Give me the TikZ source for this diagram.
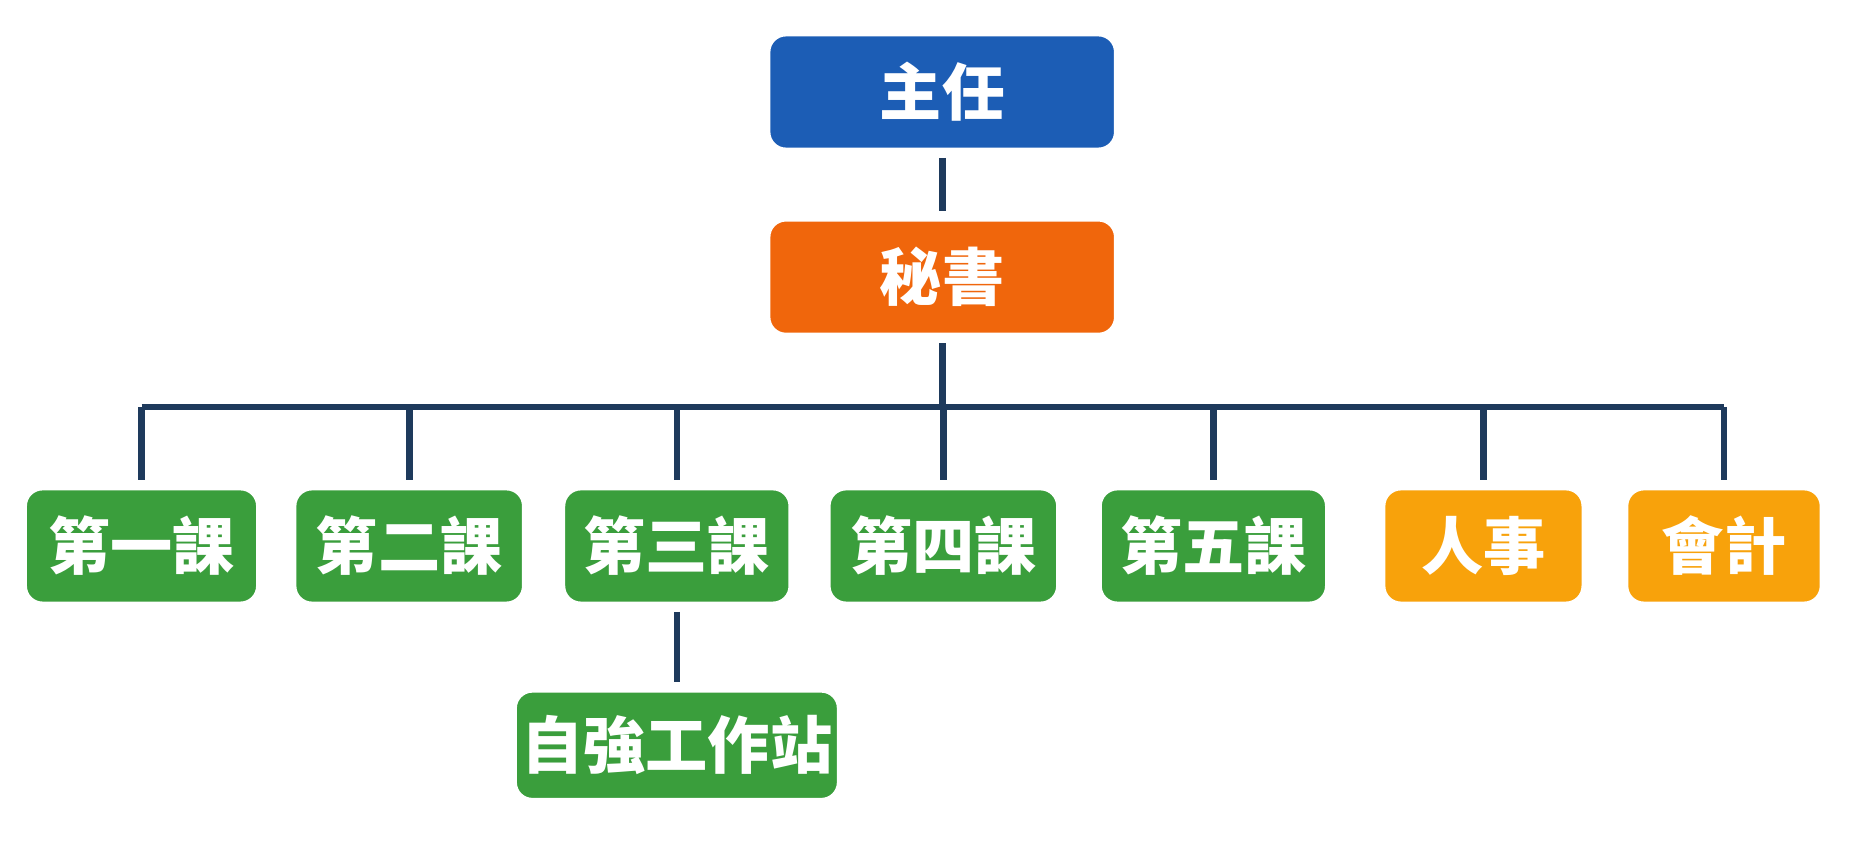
\documentclass[tikz,border=0pt]{standalone}
\usepackage{fontspec}
\newfontfamily\cjk{Noto Sans CJK TC}
\usetikzlibrary{shadows}
\definecolor{headblue}{HTML}{1C5DB5}
\definecolor{secorange}{HTML}{F0660C}
\definecolor{unitgreen}{HTML}{3A9E3C}
\definecolor{staffgold}{HTML}{F8A20B}
\definecolor{linenavy}{HTML}{1E3A5C}
\tikzset{
	box/.style={draw=white,line width=2.5pt,rounded corners=5pt,text=white,
		font=\cjk\bfseries\fontsize{15pt}{15pt}\selectfont,
		drop shadow={opacity=0.18,shadow xshift=0.5pt,shadow yshift=-0.5pt},
		inner sep=0pt},
	conn/.style={draw=linenavy,line width=1.6pt}
}
\begin{document}
\begin{tikzpicture}[x=0.01cm,y=-0.01cm]
	\useasboundingbox[fill=white] (0,0) rectangle (1568,723);

	\node[box,fill=headblue,minimum width=3.0cm,minimum height=1.03cm] (head) at (799,78) {主任};
	\node[box,fill=secorange,minimum width=3.0cm,minimum height=1.03cm] (sec) at (799,235) {秘書};

	\node[box,fill=unitgreen,minimum width=2.03cm,minimum height=1.03cm] (d1) at (120,463) {第一課};
	\node[box,fill=unitgreen,minimum width=2.0cm,minimum height=1.03cm] (d2) at (347,463) {第二課};
	\node[box,fill=unitgreen,minimum width=1.98cm,minimum height=1.03cm] (d3) at (574,463) {第三課};
	\node[box,fill=unitgreen,minimum width=2.0cm,minimum height=1.03cm] (d4) at (800,463) {第四課};
	\node[box,fill=unitgreen,minimum width=1.98cm,minimum height=1.03cm] (d5) at (1029,463) {第五課};
	\node[box,fill=staffgold,minimum width=1.75cm,minimum height=1.03cm] (hr) at (1258,463) {人事};
	\node[box,fill=staffgold,minimum width=1.71cm,minimum height=1.03cm] (acc) at (1462,463) {會計};
	\node[box,fill=unitgreen,minimum width=2.8cm,minimum height=0.98cm] (ws) at (574,632) {自強工作站};

	\coordinate (bus) at (799,345);

	% connectors
	\draw[conn] (head) -- (sec);
	\draw[conn] (sec) -- (bus);
	\draw[conn] (d1.north |- bus) -- (acc.north |- bus);
	\foreach \n in {d1,d2,d3,d4,d5,hr,acc}
		\draw[conn] (\n.north |- bus) -- (\n.north);
	\draw[conn] (d3) -- (ws);

\end{tikzpicture}
\end{document}
